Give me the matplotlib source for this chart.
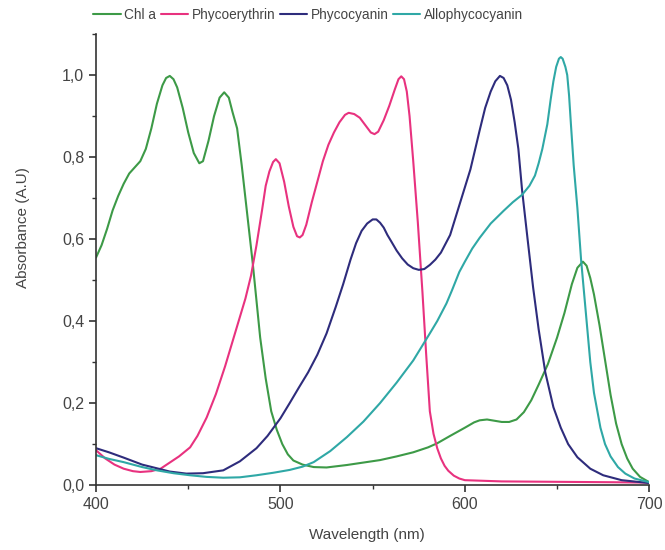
import matplotlib
matplotlib.use("Agg")
from matplotlib import pyplot as plt
from matplotlib.ticker import MultipleLocator, FuncFormatter

plt.rcParams["font.family"] = ["Liberation Sans", "DejaVu Sans"]

# absorbance spectra, wavelength (nm) / normalised absorbance
chl_nm = [400, 403, 406, 409, 412, 415, 418, 421, 424, 427, 430, 433, 436, 438, 440,
          442, 444, 447, 450, 453, 456, 458, 461, 464, 467, 469.5, 472, 474, 476.5,
          479, 482, 485, 489, 492, 495, 498, 501, 504, 507, 512, 518, 525, 536, 545,
          554, 563, 572, 580, 585, 592, 600, 605, 608, 612, 616, 620, 624, 628, 632,
          636, 640, 645, 650, 654, 658, 661, 664, 666, 668, 670, 673, 676, 679, 682,
          685, 688, 691, 695, 700]
chl_abs = [0.555, 0.585, 0.625, 0.67, 0.705, 0.735, 0.76, 0.775, 0.79, 0.82, 0.87, 0.93,
           0.975, 0.993, 0.998, 0.99, 0.97, 0.92, 0.86, 0.81, 0.785, 0.79, 0.84, 0.90,
           0.945, 0.958, 0.945, 0.91, 0.87, 0.78, 0.66, 0.54, 0.36, 0.26, 0.18, 0.135,
           0.10, 0.075, 0.06, 0.05, 0.044, 0.043, 0.049, 0.055, 0.061, 0.07, 0.08, 0.092,
           0.102, 0.12, 0.14, 0.153, 0.158, 0.16, 0.157, 0.154, 0.154, 0.16, 0.178,
           0.207, 0.245, 0.295, 0.36, 0.42, 0.49, 0.53, 0.545, 0.535, 0.505, 0.465,
           0.39, 0.305, 0.22, 0.15, 0.10, 0.065, 0.04, 0.02, 0.007]

pe_nm = [400, 405, 410, 415, 420, 424, 430, 435, 440, 445, 451, 455, 460, 465, 470,
         474, 478, 481, 484, 487, 490, 492, 494, 496, 497.5, 499.5, 502, 504.5, 507,
         509, 510.5, 512, 514, 517, 520, 523, 526, 529, 532, 535, 537, 540, 543, 546,
         549, 551, 553, 556, 559, 562, 564, 565.5, 567, 568.5, 570, 572, 574.5, 577,
         579, 581, 583, 585, 587, 589, 591, 594, 597, 600, 620, 650, 680, 700]
pe_abs = [0.085, 0.065, 0.05, 0.04, 0.034, 0.032, 0.034, 0.04, 0.055, 0.07, 0.092, 0.12,
          0.165, 0.222, 0.29, 0.35, 0.41, 0.455, 0.51, 0.585, 0.67, 0.73, 0.765, 0.788,
          0.795, 0.785, 0.74, 0.68, 0.63, 0.607, 0.604, 0.61, 0.635, 0.69, 0.74, 0.79,
          0.83, 0.86, 0.885, 0.903, 0.908, 0.905, 0.896, 0.878, 0.86, 0.856, 0.862,
          0.89, 0.925, 0.965, 0.99, 0.997, 0.99, 0.96, 0.90, 0.79, 0.64, 0.47, 0.32,
          0.18, 0.125, 0.09, 0.065, 0.047, 0.035, 0.023, 0.016, 0.012, 0.009, 0.008,
          0.007, 0.006]

pc_nm = [400, 407, 415, 425, 433, 440, 449, 458, 469, 478, 487, 493, 500, 505, 510, 515,
         520, 525, 530, 534, 538, 541, 544, 547, 550, 552, 554, 556, 558, 560, 563, 566,
         569, 572, 575, 578, 581, 584, 587, 592, 597.5, 603, 608, 611, 614, 616.5, 619,
         621, 623, 625, 627, 629, 631, 634, 637, 640, 643.6, 648, 652, 656, 661, 668,
         675, 685, 700]
pc_abs = [0.09, 0.08, 0.067, 0.05, 0.041, 0.033, 0.028, 0.029, 0.036, 0.058, 0.09, 0.12,
          0.163, 0.20, 0.238, 0.275, 0.318, 0.37, 0.435, 0.49, 0.55, 0.59, 0.62, 0.638,
          0.648, 0.648, 0.64, 0.628, 0.61, 0.595, 0.572, 0.553, 0.538, 0.529, 0.525,
          0.527, 0.537, 0.55, 0.567, 0.61, 0.69, 0.77, 0.865, 0.92, 0.96, 0.985, 0.998,
          0.993, 0.975, 0.94, 0.885, 0.82, 0.72, 0.60, 0.482, 0.38, 0.275, 0.19, 0.14,
          0.10, 0.068, 0.04, 0.024, 0.012, 0.005]

apc_nm = [400, 407, 415, 425, 433, 442, 451, 460, 469, 478, 487, 496, 505, 512, 518, 527,
          536, 545, 554, 563, 572, 581, 585, 590, 593, 597, 600, 604, 608, 614, 621, 626,
          631, 635, 638, 640, 642, 644.7, 646.5, 648, 649.5, 651, 652, 653, 654.5, 655.5,
          656.5, 657.5, 659, 661, 663, 664, 666, 668, 670, 673.5, 676, 679, 683, 687,
          692, 700]
apc_abs = [0.073, 0.064, 0.056, 0.044, 0.036, 0.029, 0.024, 0.02, 0.018, 0.019, 0.024,
           0.03, 0.037, 0.045, 0.056, 0.083, 0.117, 0.155, 0.2, 0.25, 0.304, 0.37, 0.40,
           0.443, 0.475, 0.52, 0.545, 0.577, 0.603, 0.638, 0.669, 0.69, 0.708, 0.73,
           0.755, 0.785, 0.82, 0.88, 0.94, 0.985, 1.02, 1.04, 1.044, 1.04, 1.02, 1.0,
           0.95, 0.88, 0.78, 0.676, 0.55, 0.50, 0.40, 0.30, 0.225, 0.14, 0.10, 0.07,
           0.044, 0.028, 0.016, 0.007]

series = [
    ("Chl a", chl_nm, chl_abs, "#3d9a47"),
    ("Phycoerythrin", pe_nm, pe_abs, "#e8327f"),
    ("Phycocyanin", pc_nm, pc_abs, "#2e2c7c"),
    ("Allophycocyanin", apc_nm, apc_abs, "#2fa8a6"),
]

fig = plt.figure(figsize=(6.65, 5.5), dpi=100)
ax = fig.add_axes([0.1444, 0.118, 0.832, 0.82])

for name, nm, a, c in series:
    ax.plot(nm, a, color=c, lw=1.5, label=name, solid_capstyle="round",
            solid_joinstyle="round")

ax.set_xlim(400, 700)
ax.set_ylim(0, 1.1)
ax.spines["top"].set_visible(False)
ax.spines["right"].set_visible(False)
for s in ("left", "bottom"):
    ax.spines[s].set_color("#333333")
    ax.spines[s].set_linewidth(1.2)

ax.xaxis.set_major_locator(MultipleLocator(100))
ax.xaxis.set_minor_locator(MultipleLocator(50))
ax.yaxis.set_major_locator(MultipleLocator(0.2))
ax.yaxis.set_minor_locator(MultipleLocator(0.1))
ax.yaxis.set_major_formatter(FuncFormatter(lambda v, p: f"{v:.1f}".replace(".", ",")))
ax.tick_params(which="major", direction="out", length=5, width=1.2, color="#333333",
               labelsize=11.5, labelcolor="#444444")
ax.tick_params(which="minor", direction="out", length=3, width=1.0, color="#333333")

ax.set_xlabel("Wavelength (nm)", fontsize=11, color="#444444")
ax.set_ylabel("Absorbance (A.U)", fontsize=11, color="#444444")
ax.xaxis.set_label_coords(0.49, -0.095)
ax.yaxis.set_label_coords(-0.12, 0.57)

fig.legend(loc="upper left", bbox_to_anchor=(0.122, 1.008), ncol=4, frameon=False,
           fontsize=9.8, handlelength=2.0, handletextpad=0.25, columnspacing=0.35,
           labelcolor="#444444")

fig.savefig("out.png", dpi=100)
